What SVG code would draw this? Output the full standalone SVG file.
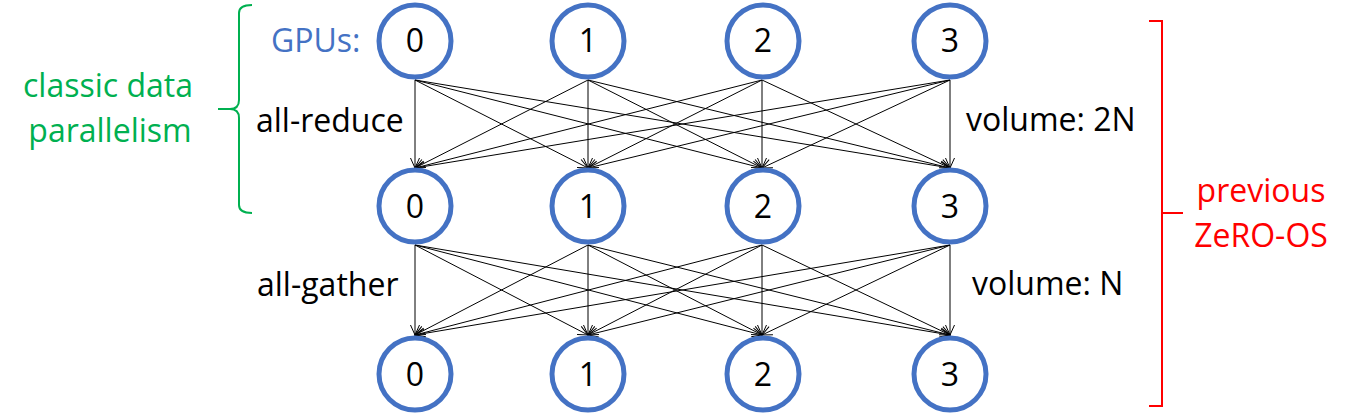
<svg xmlns="http://www.w3.org/2000/svg" width="1369" height="420" viewBox="0 0 1369 420">
<style>
  text { font-family: "Open Sans", "Liberation Sans", sans-serif; font-size: 32px; }
  .node circle { fill: #ffffff; stroke: #4472C4; stroke-width: 5; }
  .node text { fill: #000000; text-anchor: middle; }
  .lbl { fill: #000000; }
  .edge line { stroke: #000000; stroke-width: 1; marker-end: url(#ah); }
</style>
<defs>
  <marker id="ah" markerUnits="userSpaceOnUse" markerWidth="14" markerHeight="12" refX="12" refY="6" orient="auto" viewBox="0 0 14 12">
    <path d="M2,1.5 L12,6 L2,10.5" fill="none" stroke="#000000" stroke-width="1"/>
  </marker>
</defs>
<rect width="1369" height="420" fill="#ffffff"/>

<g id="connectors" class="edge">
  <!-- all-reduce: row 1 -> row 2 -->
  <line x1="415" y1="80" x2="415" y2="168"/>
  <line x1="415" y1="80" x2="588" y2="168"/>
  <line x1="415" y1="80" x2="762" y2="168"/>
  <line x1="415" y1="80" x2="950" y2="168"/>
  <line x1="588" y1="80" x2="415" y2="168"/>
  <line x1="588" y1="80" x2="588" y2="168"/>
  <line x1="588" y1="80" x2="762" y2="168"/>
  <line x1="588" y1="80" x2="950" y2="168"/>
  <line x1="762" y1="80" x2="415" y2="168"/>
  <line x1="762" y1="80" x2="588" y2="168"/>
  <line x1="762" y1="80" x2="762" y2="168"/>
  <line x1="762" y1="80" x2="950" y2="168"/>
  <line x1="950" y1="80" x2="415" y2="168"/>
  <line x1="950" y1="80" x2="588" y2="168"/>
  <line x1="950" y1="80" x2="762" y2="168"/>
  <line x1="950" y1="80" x2="950" y2="168"/>
  <!-- all-gather: row 2 -> row 3 -->
  <line x1="415" y1="245" x2="415" y2="335"/>
  <line x1="415" y1="245" x2="588" y2="335"/>
  <line x1="415" y1="245" x2="762" y2="335"/>
  <line x1="415" y1="245" x2="950" y2="335"/>
  <line x1="588" y1="245" x2="415" y2="335"/>
  <line x1="588" y1="245" x2="588" y2="335"/>
  <line x1="588" y1="245" x2="762" y2="335"/>
  <line x1="588" y1="245" x2="950" y2="335"/>
  <line x1="762" y1="245" x2="415" y2="335"/>
  <line x1="762" y1="245" x2="588" y2="335"/>
  <line x1="762" y1="245" x2="762" y2="335"/>
  <line x1="762" y1="245" x2="950" y2="335"/>
  <line x1="950" y1="245" x2="415" y2="335"/>
  <line x1="950" y1="245" x2="588" y2="335"/>
  <line x1="950" y1="245" x2="762" y2="335"/>
  <line x1="950" y1="245" x2="950" y2="335"/>
</g>

<g id="r1n0" class="node"><circle cx="415" cy="41" r="36"/><text x="415" y="52">0</text></g>
<g id="r1n1" class="node"><circle cx="588" cy="41" r="36"/><text x="588" y="52">1</text></g>
<g id="r1n2" class="node"><circle cx="763" cy="41" r="36"/><text x="763" y="52">2</text></g>
<g id="r1n3" class="node"><circle cx="950" cy="41" r="36"/><text x="950" y="52">3</text></g>

<g id="r2n0" class="node"><circle cx="415" cy="206" r="36"/><text x="415" y="218">0</text></g>
<g id="r2n1" class="node"><circle cx="588" cy="206" r="36"/><text x="588" y="218">1</text></g>
<g id="r2n2" class="node"><circle cx="763" cy="206" r="36"/><text x="763" y="218">2</text></g>
<g id="r2n3" class="node"><circle cx="950" cy="206" r="36"/><text x="950" y="218">3</text></g>

<g id="r3n0" class="node"><circle cx="415" cy="374" r="36"/><text x="415" y="386">0</text></g>
<g id="r3n1" class="node"><circle cx="588" cy="374" r="36"/><text x="588" y="386">1</text></g>
<g id="r3n2" class="node"><circle cx="763" cy="374" r="36"/><text x="763" y="386">2</text></g>
<g id="r3n3" class="node"><circle cx="950" cy="374" r="36"/><text x="950" y="386">3</text></g>

<g id="labels">
  <text x="271" y="52" fill="#4472C4">GPUs:</text>
  <text class="lbl" x="256" y="132">all-reduce</text>
  <text class="lbl" x="257" y="296">all-gather</text>
  <text class="lbl" x="966" y="131">volume: 2N</text>
  <text class="lbl" x="972" y="295">volume: N</text>
</g>

<g id="classic-dp">
  <path d="M252,5 Q239,5 239,13 L239,100 Q239,109 230,109 L218,109 L230,109 Q239,109 239,118 L239,205 Q239,213 252,213" fill="none" stroke="#00B050" stroke-width="2"/>
  <text x="108" y="97" fill="#00B050" text-anchor="middle">classic data</text>
  <text x="110" y="142" fill="#00B050" text-anchor="middle">parallelism</text>
</g>

<g id="zero-os">
  <path d="M1149,21 L1162,21 L1162,406 L1149,406 M1162,213 L1183,213" fill="none" stroke="#FF0000" stroke-width="2"/>
  <text x="1261" y="202" fill="#FF0000" text-anchor="middle">previous</text>
  <text x="1261" y="247" fill="#FF0000" text-anchor="middle">ZeRO-OS</text>
</g>
</svg>
